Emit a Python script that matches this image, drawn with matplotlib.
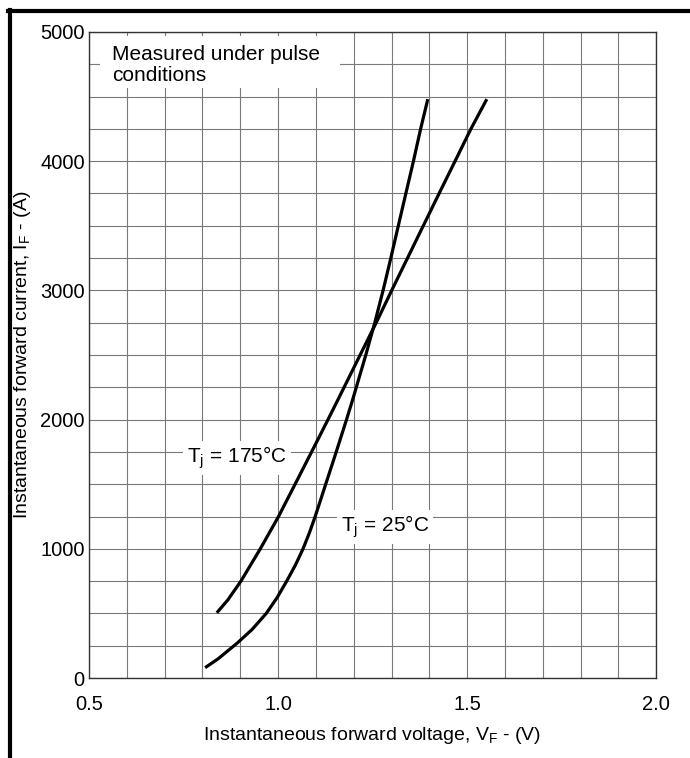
import numpy as np
import matplotlib
matplotlib.use("Agg")
import matplotlib.pyplot as plt
from matplotlib.lines import Line2D
from matplotlib.patches import Rectangle

plt.rcParams["font.family"] = ["Liberation Sans", "DejaVu Sans"]
plt.rcParams["mathtext.default"] = "regular"

# forward characteristic, Tj = 25 C  (V, A)
vf_25 = [0.807, 0.842, 0.891, 0.931, 0.969, 0.998, 1.023, 1.046, 1.066, 1.083,
         1.098, 1.126, 1.154, 1.181, 1.197, 1.232, 1.256, 1.278, 1.298, 1.318,
         1.338, 1.358, 1.377, 1.396]
if_25 = [80, 150, 268, 375, 501, 625, 751, 875, 1000, 1125,
         1249, 1500, 1752, 2000, 2152, 2500, 2753, 3003, 3248, 3500,
         3751, 4000, 4250, 4480]

# forward characteristic, Tj = 175 C  (V, A)
vf_175 = [0.838, 0.867, 0.902, 0.953, 1.001, 1.045, 1.089, 1.132, 1.158, 1.217,
          1.260, 1.301, 1.342, 1.384, 1.426, 1.468, 1.510, 1.552]
if_175 = [505, 604, 751, 1000, 1249, 1500, 1752, 2000, 2152, 2500,
          2753, 3003, 3248, 3500, 3751, 4000, 4250, 4480]

x_ticks = [0.5, 1.0, 1.5, 2.0]
x_tick_labels = ["0.5", "1.0", "1.5", "2.0"]
y_ticks = [0, 1000, 2000, 3000, 4000, 5000]

fig = plt.figure(figsize=(6.9, 7.58), dpi=100)
ax = fig.add_axes([0.129, 0.1055, 0.822, 0.8523])

ax.set_xlim(0.5, 2.0)
ax.set_ylim(0, 5000)

# fine grid: 0.1 V by 250 A
ax.set_xticks(np.arange(0.5, 2.0001, 0.1), minor=True)
ax.set_yticks(np.arange(0, 5001, 250), minor=True)
ax.grid(which="minor", color="#7a7a7a", linewidth=0.8)
ax.grid(which="major", color="#7a7a7a", linewidth=0.8)
ax.set_axisbelow(True)

ax.set_xticks(x_ticks)
ax.set_xticklabels(x_tick_labels)
ax.set_yticks(y_ticks)
ax.tick_params(which="both", length=0)
ax.tick_params(axis="x", pad=12, labelsize=14.5)
ax.tick_params(axis="y", pad=3, labelsize=14.5)

for s in ax.spines.values():
    s.set_color("#333333")
    s.set_linewidth(1.0)

ax.plot(vf_25, if_25, color="black", linewidth=2.3, solid_capstyle="butt", zorder=3)
ax.plot(vf_175, if_175, color="black", linewidth=2.3, solid_capstyle="butt", zorder=3)

ax.set_xlabel("Instantaneous forward voltage, V$_F$ - (V)", fontsize=14, labelpad=8)
ax.set_ylabel("Instantaneous forward current, I$_F$ - (A)", fontsize=14, labelpad=5)

# note box in the upper left corner
ax.add_patch(Rectangle((0.019, 0.9133), 0.423, 0.0807, transform=ax.transAxes,
                       facecolor="white", edgecolor="none", zorder=2))
ax.text(0.561, 4900, "Measured under pulse\nconditions", fontsize=15,
        ha="left", va="top", linespacing=1.15, zorder=4)

ax.text(0.892, 1703, "T$_j$ = 175°C", fontsize=15, ha="center", va="center",
        zorder=4, bbox=dict(facecolor="white", edgecolor="none", pad=3))
ax.text(1.283, 1169, "T$_j$ = 25°C", fontsize=15, ha="center", va="center",
        zorder=4, bbox=dict(facecolor="white", edgecolor="none", pad=3))

# frame lines on the left and top of the figure
fig.add_artist(Line2D([0.0145, 0.0145], [0.0, 0.987], color="black", linewidth=3.0))
fig.add_artist(Line2D([0.012, 1.0], [0.986, 0.986], color="black", linewidth=3.0))

fig.savefig("out.png", dpi=100)
